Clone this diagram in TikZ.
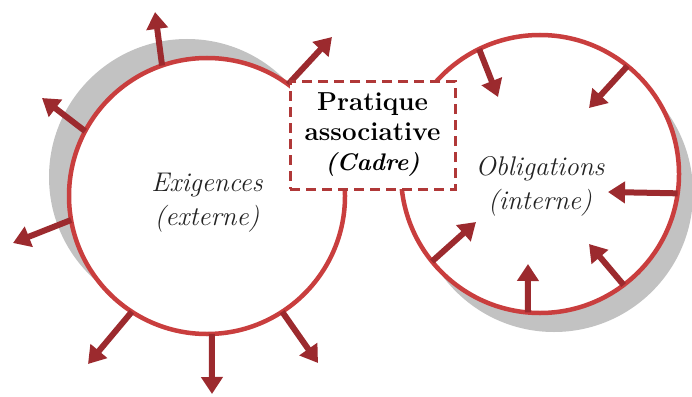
\documentclass[tikz,border=0pt]{standalone}
\usetikzlibrary{arrows.meta,calc}
\definecolor{ringred}{RGB}{201,62,62}
\definecolor{arrred}{RGB}{156,42,46}
\definecolor{boxred}{RGB}{176,56,56}
\definecolor{shadowgray}{RGB}{194,194,194}
\definecolor{txt}{RGB}{35,35,35}
\tikzset{
  ring/.style={circle, draw=ringred, line width=4.5pt, fill=white, inner sep=0pt, outer sep=0pt, minimum size=#1},
  arr/.style={draw=arrred, line width=6pt, -{Triangle[width=21pt,length=17pt]}},
  cadre/.style={draw=boxred, line width=3pt, dash pattern=on 10pt off 6pt, fill=white,
    minimum width=165pt, minimum height=108pt, inner sep=0pt, align=center},
  lbl/.style={align=center, text=txt, font=\fontsize{27}{34}\selectfont\itshape}
}
\begin{document}
\begin{tikzpicture}[x=1pt,y=-1pt]
\useasboundingbox (0,0) rectangle (692,396);
% shadows
\fill[shadowgray] (187,177) circle (138pt);
\fill[shadowgray] (554,193) circle (139pt);
% rings
\node[ring=276pt] (L) at (207,196) {};
\node[ring=278pt] (R) at (540,174) {};
% tips of outward arrows (left)
\coordinate (l1) at (155,12);
\coordinate (l2) at (332,37);
\coordinate (l3) at (42,98);
\coordinate (l4) at (13,243);
\coordinate (l5) at (88,364);
\coordinate (l6) at (212,394);
\coordinate (l7) at (318,363);
\draw[arr] (L.109) -- (l1);
\draw[arr] (L.54) -- (l2);
\draw[arr] (L.152) -- (l3);
\draw[arr] (L.190) -- (l4);
\draw[arr] (L.237) -- (l5);
\draw[arr] (L.272) -- (l6);
\draw[arr] (L.303.5) -- (l7);
% tips of inward arrows (right)
\coordinate (r1) at (498,97);
\coordinate (r2) at (589,108);
\coordinate (r3) at (608,192);
\coordinate (r4) at (589,244);
\coordinate (r5) at (528,264);
\coordinate (r6) at (476,222);
\draw[arr] (R.116) -- (r1);
\draw[arr] (R.51) -- (r2);
\draw[arr] (R.352.5) -- (r3);
\draw[arr] (R.307) -- (r4);
\draw[arr] (R.265) -- (r5);
\draw[arr] (R.219.5) -- (r6);
% frame
\node[cadre, font=\fontsize{26}{30}\selectfont\bfseries] (box) at (372.5,135)
  {Pratique\\associative\\{\fontsize{24}{30}\selectfont\itshape (Cadre)}};
% labels
\node[lbl] (ex) at (207,203) {Exigences\\(externe)};
\node[lbl] (ob) at (540,186) {Obligations\\(interne)};
\end{tikzpicture}
\end{document}
